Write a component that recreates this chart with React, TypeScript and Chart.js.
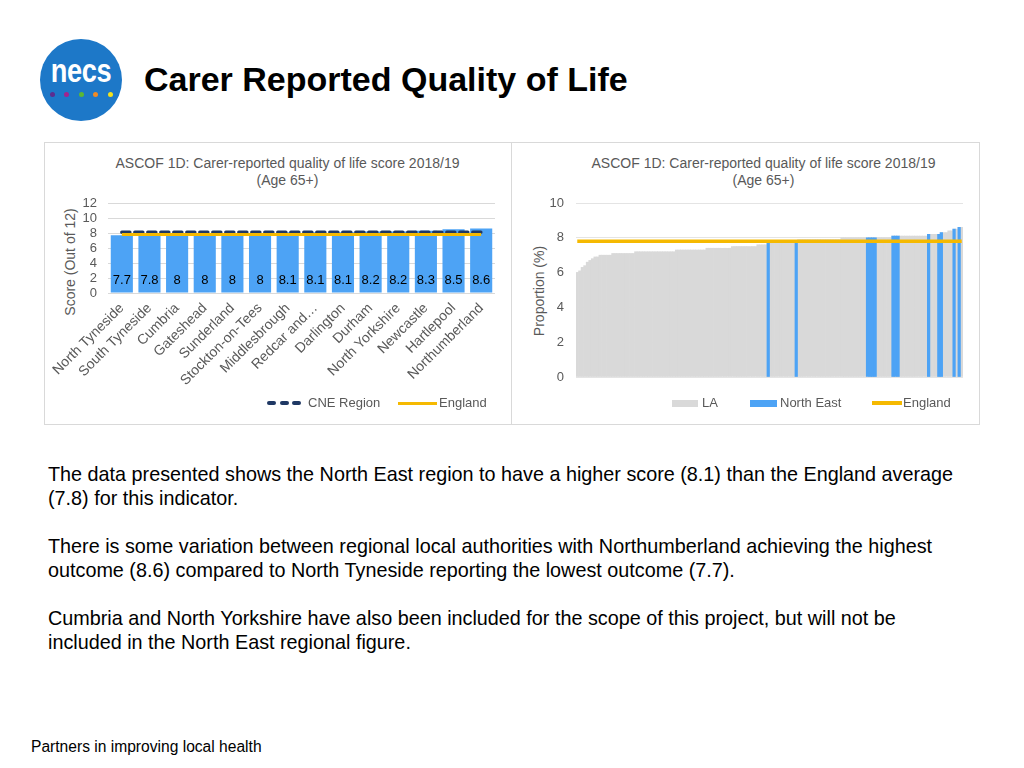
import React, { useEffect, useRef } from "react";
import { Chart, registerables } from "chart.js";

Chart.register(...registerables);

const FONT = '"Liberation Sans", Arial, Helvetica, sans-serif';
const GREY_TEXT = "#595959";
const BLUE = "#4da3f5";
const YELLOW = "#f5b901";
const NAVY = "#1f3864";
const LA_GREY = "#d9d9d9";

// ---- Left chart data ----
const areas = [
  "North Tyneside",
  "South Tyneside",
  "Cumbria",
  "Gateshead",
  "Sunderland",
  "Stockton-on-Tees",
  "Middlesbrough",
  "Redcar and…",
  "Darlington",
  "Durham",
  "North Yorkshire",
  "Newcastle",
  "Hartlepool",
  "Northumberland",
];
const areaScores = [7.7, 7.8, 8, 8, 8, 8, 8.1, 8.1, 8.1, 8.2, 8.2, 8.3, 8.5, 8.6];
const cneRegion = 8.1;
const englandAvg = 7.8;

// ---- Right chart data (all LAs, sorted ascending) ----
const laScores = [
  6.0, 6.1, 6.3, 6.4, 6.6, 6.7, 6.8, 6.9, 6.9,
  7.0, 7.0, 7.0, 7.0, 7.0,
  7.1, 7.1, 7.1, 7.1, 7.1, 7.1, 7.1, 7.1, 7.1,
  7.2, 7.2, 7.2, 7.2, 7.2, 7.2, 7.2, 7.2, 7.2, 7.2, 7.2, 7.2, 7.2, 7.2, 7.2, 7.2,
  7.3, 7.3, 7.3, 7.3, 7.3, 7.3, 7.3, 7.3, 7.3, 7.3, 7.3, 7.3,
  7.4, 7.4, 7.4, 7.4, 7.4, 7.4, 7.4, 7.4, 7.4, 7.4,
  7.5, 7.5, 7.5, 7.5, 7.5, 7.5, 7.5, 7.5, 7.5, 7.5,
  7.6, 7.6, 7.6, 7.6,
  7.7, 7.7, 7.7, 7.7, 7.7, 7.7,
  7.8, 7.8, 7.8, 7.8, 7.8, 7.8,
  7.9, 7.9, 7.9, 7.9, 7.9, 7.9, 7.9, 7.9, 7.9, 7.9, 7.9, 7.9, 7.9, 7.9, 7.9, 7.9, 7.9,
  8.0, 8.0, 8.0, 8.0, 8.0, 8.0, 8.0, 8.0, 8.0, 8.0, 8.0, 8.0, 8.0, 8.0, 8.0, 8.0, 8.0, 8.0, 8.0, 8.0,
  8.1, 8.1, 8.1, 8.1, 8.1, 8.1, 8.1, 8.1, 8.1, 8.1, 8.1, 8.1, 8.1, 8.1,
  8.2, 8.2, 8.2, 8.2, 8.2,
  8.3, 8.3, 8.3,
  8.4, 8.4,
  8.5, 8.5,
  8.6, 8.6,
];
// positions (rank index) of the Cumbria & North East authorities within the LA list
const neRanks = [75, 86, 114, 115, 116, 117, 124, 125, 126, 138, 142, 143, 148, 150];
const neScores = [7.7, 7.8, 8.0, 8.0, 8.0, 8.0, 8.1, 8.1, 8.1, 8.2, 8.2, 8.3, 8.5, 8.6];

const leftTitle = ["ASCOF 1D: Carer-reported quality of life score 2018/19", "(Age 65+)"];
const rightTitle = ["ASCOF 1D: Carer-reported quality of life score 2018/19", "(Age 65+)"];

const fmt = (v: number) => String(Number(v.toFixed(1)));

const barValueLabels = {
  id: "barValueLabels",
  afterDatasetsDraw(chart: any) {
    const meta = chart.getDatasetMeta(0);
    const y0 = chart.scales.y.getPixelForValue(0);
    const ctx = chart.ctx;
    ctx.save();
    ctx.font = `13px ${FONT}`;
    ctx.fillStyle = "#000000";
    ctx.textAlign = "center";
    ctx.textBaseline = "middle";
    meta.data.forEach((el: any, i: number) => {
      ctx.fillText(fmt(areaScores[i]), el.x, y0 - 12.5);
    });
    ctx.restore();
  },
};

export default function App() {
  const leftRef = useRef<HTMLCanvasElement>(null);
  const rightRef = useRef<HTMLCanvasElement>(null);

  useEffect(() => {
    const left = new Chart(leftRef.current as HTMLCanvasElement, {
      type: "bar",
      data: {
        labels: areas,
        datasets: [
          {
            type: "bar",
            label: "Score",
            data: areaScores,
            backgroundColor: BLUE,
            borderWidth: 0,
            categoryPercentage: 0.8,
            barPercentage: 1,
            order: 3,
          } as any,
          {
            type: "line",
            label: "CNE Region",
            data: areas.map(() => cneRegion),
            borderColor: NAVY,
            borderWidth: 3.5,
            borderDash: [8, 5],
            borderCapStyle: "round",
            pointRadius: 0,
            fill: false,
            order: 2,
          } as any,
          {
            type: "line",
            label: "England",
            data: areas.map(() => englandAvg),
            borderColor: YELLOW,
            borderWidth: 3,
            pointRadius: 0,
            fill: false,
            order: 1,
          } as any,
        ],
      },
      options: {
        responsive: false,
        animation: false,
        layout: { padding: { left: 0, right: 16, top: 61, bottom: 0 } },
        plugins: {
          legend: { display: false },
          title: { display: false },
          tooltip: { enabled: false },
        },
        scales: {
          x: {
            grid: { display: false, drawTicks: false },
            border: { display: false },
            ticks: {
              autoSkip: false,
              maxRotation: 45,
              minRotation: 45,
              padding: 7,
              color: GREY_TEXT,
              font: { family: FONT, size: 14 },
            },
            afterFit: (s: any) => {
              s.height = 131;
            },
          },
          y: {
            min: 0,
            max: 12,
            grid: { color: LA_GREY, drawTicks: false },
            border: { display: false },
            ticks: {
              stepSize: 2,
              autoSkip: false,
              padding: 11,
              color: GREY_TEXT,
              font: { family: FONT, size: 13 },
            },
            afterFit: (s: any) => {
              s.width = 64;
            },
          },
        },
      },
      plugins: [barValueLabels],
    } as any);

    const rankLabels = laScores.map((_, i) => String(i + 1));
    const neSeries = laScores.map((_, i) => {
      const k = neRanks.indexOf(i);
      return k >= 0 ? neScores[k] : null;
    });

    const right = new Chart(rightRef.current as HTMLCanvasElement, {
      type: "bar",
      data: {
        labels: rankLabels,
        datasets: [
          {
            type: "bar",
            label: "LA",
            data: laScores,
            backgroundColor: LA_GREY,
            borderWidth: 0,
            categoryPercentage: 1,
            barPercentage: 1,
            grouped: false,
            order: 3,
          } as any,
          {
            type: "bar",
            label: "North East",
            data: neSeries,
            backgroundColor: BLUE,
            borderWidth: 0,
            categoryPercentage: 1,
            barPercentage: 1,
            grouped: false,
            order: 2,
          } as any,
          {
            type: "line",
            label: "England",
            data: laScores.map(() => englandAvg),
            borderColor: YELLOW,
            borderWidth: 3.5,
            pointRadius: 0,
            fill: false,
            order: 1,
          } as any,
        ],
      },
      options: {
        responsive: false,
        animation: false,
        layout: { padding: { left: 0, right: 16, top: 61, bottom: 47 } },
        plugins: {
          legend: { display: false },
          title: { display: false },
          tooltip: { enabled: false },
        },
        scales: {
          x: { display: false },
          y: {
            min: 0,
            max: 10,
            grid: { color: "#e4e4e4", drawTicks: false },
            border: { display: false },
            ticks: {
              stepSize: 2,
              autoSkip: false,
              padding: 12,
              color: GREY_TEXT,
              font: { family: FONT, size: 13 },
            },
            afterFit: (s: any) => {
              s.width = 64;
            },
          },
        },
      },
    } as any);

    return () => {
      left.destroy();
      right.destroy();
    };
  }, []);

  const legendText: React.CSSProperties = {
    position: "absolute",
    top: 395,
    fontSize: 13,
    lineHeight: "16px",
    color: GREY_TEXT,
    whiteSpace: "nowrap",
  };
  const chartTitle: React.CSSProperties = {
    position: "absolute",
    top: 155,
    width: 420,
    textAlign: "center",
    fontSize: 14,
    lineHeight: "17px",
    color: GREY_TEXT,
    whiteSpace: "nowrap",
  };
  const axisTitle: React.CSSProperties = {
    position: "absolute",
    width: 160,
    height: 16,
    fontSize: 14,
    lineHeight: "16px",
    color: GREY_TEXT,
    textAlign: "center",
    transform: "rotate(-90deg)",
    transformOrigin: "50% 50%",
    whiteSpace: "nowrap",
  };
  const body: React.CSSProperties = {
    position: "absolute",
    left: 48,
    fontSize: 19.8,
    lineHeight: "24px",
    color: "#000",
    whiteSpace: "nowrap",
  };
  const dot = (x: number, c: string): React.CSSProperties => ({
    position: "absolute",
    left: x - 2.5,
    top: 91.5,
    width: 5,
    height: 5,
    borderRadius: "50%",
    background: c,
  });

  return (
    <div
      style={{
        position: "absolute",
        left: 0,
        top: 0,
        width: 1024,
        height: 768,
        background: "#ffffff",
        fontFamily: FONT,
        overflow: "hidden",
      }}
    >
      {/* Logo */}
      <div
        style={{
          position: "absolute",
          left: 40,
          top: 39,
          width: 82,
          height: 82,
          borderRadius: "50%",
          background: "#1d78c8",
        }}
      />
      <div
        style={{
          position: "absolute",
          left: 31,
          top: 53,
          width: 100,
          textAlign: "center",
          color: "#ffffff",
          fontWeight: "bold",
          fontSize: 34,
          lineHeight: "34px",
          transform: "scaleX(0.8)",
          letterSpacing: "-0.5px",
        }}
      >
        necs
      </div>
      <div style={dot(52, "#5b2d90")} />
      <div style={dot(66.5, "#a3238e")} />
      <div style={dot(81, "#5bb834")} />
      <div style={dot(95.5, "#f08a24")} />
      <div style={dot(110, "#f2e21b")} />

      {/* Page title */}
      <div
        style={{
          position: "absolute",
          left: 144,
          top: 59,
          fontSize: 34,
          lineHeight: "40px",
          fontWeight: "bold",
          color: "#000",
          whiteSpace: "nowrap",
        }}
      >
        Carer Reported Quality of Life
      </div>

      {/* Panels */}
      <div
        style={{
          position: "absolute",
          left: 44,
          top: 142,
          width: 468,
          height: 283,
          border: "1px solid #d9d9d9",
          boxSizing: "border-box",
        }}
      />
      <div
        style={{
          position: "absolute",
          left: 511,
          top: 142,
          width: 469,
          height: 283,
          border: "1px solid #d9d9d9",
          boxSizing: "border-box",
        }}
      />

      {/* Left chart */}
      <div style={{ ...chartTitle, left: 77.5 }}>
        {leftTitle[0]}
        <br />
        {leftTitle[1]}
      </div>
      <div style={{ ...axisTitle, left: 70 - 80, top: 262 - 8 }}>Score (Out of 12)</div>
      <canvas
        ref={leftRef}
        width={467}
        height={282}
        style={{ position: "absolute", left: 44, top: 142, width: 467, height: 282 }}
      />
      {/* Left legend */}
      <div style={{ position: "absolute", left: 267, top: 401, width: 9, height: 4, borderRadius: 2, background: NAVY }} />
      <div style={{ position: "absolute", left: 279.5, top: 401, width: 9, height: 4, borderRadius: 2, background: NAVY }} />
      <div style={{ position: "absolute", left: 292, top: 401, width: 9, height: 4, borderRadius: 2, background: NAVY }} />
      <div style={{ ...legendText, left: 308 }}>CNE Region</div>
      <div style={{ position: "absolute", left: 398, top: 401.5, width: 39, height: 3, background: YELLOW }} />
      <div style={{ ...legendText, left: 439 }}>England</div>

      {/* Right chart */}
      <div style={{ ...chartTitle, left: 553.5 }}>
        {rightTitle[0]}
        <br />
        {rightTitle[1]}
      </div>
      <div style={{ ...axisTitle, left: 539 - 80, top: 291 - 8 }}>Proportion (%)</div>
      <canvas
        ref={rightRef}
        width={467}
        height={282}
        style={{ position: "absolute", left: 512, top: 142, width: 467, height: 282 }}
      />
      {/* Right legend */}
      <div style={{ position: "absolute", left: 672, top: 399.5, width: 26, height: 7, background: LA_GREY }} />
      <div style={{ ...legendText, left: 702 }}>LA</div>
      <div style={{ position: "absolute", left: 750, top: 399.5, width: 27, height: 7, background: BLUE }} />
      <div style={{ ...legendText, left: 780 }}>North East</div>
      <div style={{ position: "absolute", left: 872, top: 401, width: 30, height: 3.5, background: YELLOW }} />
      <div style={{ ...legendText, left: 903 }}>England</div>

      {/* Body text */}
      <div style={{ ...body, top: 462 }}>
        The data presented shows the North East region to have a higher score (8.1) than the England average
        <br />
        (7.8) for this indicator.
      </div>
      <div style={{ ...body, top: 534 }}>
        There is some variation between regional local authorities with Northumberland achieving the highest
        <br />
        outcome (8.6) compared to North Tyneside reporting the lowest outcome (7.7).
      </div>
      <div style={{ ...body, top: 606 }}>
        Cumbria and North Yorkshire have also been included for the scope of this project, but will not be
        <br />
        included in the North East regional figure.
      </div>

      {/* Footer */}
      <div
        style={{
          position: "absolute",
          left: 31,
          top: 739,
          fontSize: 15.6,
          lineHeight: "16px",
          color: "#000",
          whiteSpace: "nowrap",
        }}
      >
        Partners in improving local health
      </div>
    </div>
  );
}
